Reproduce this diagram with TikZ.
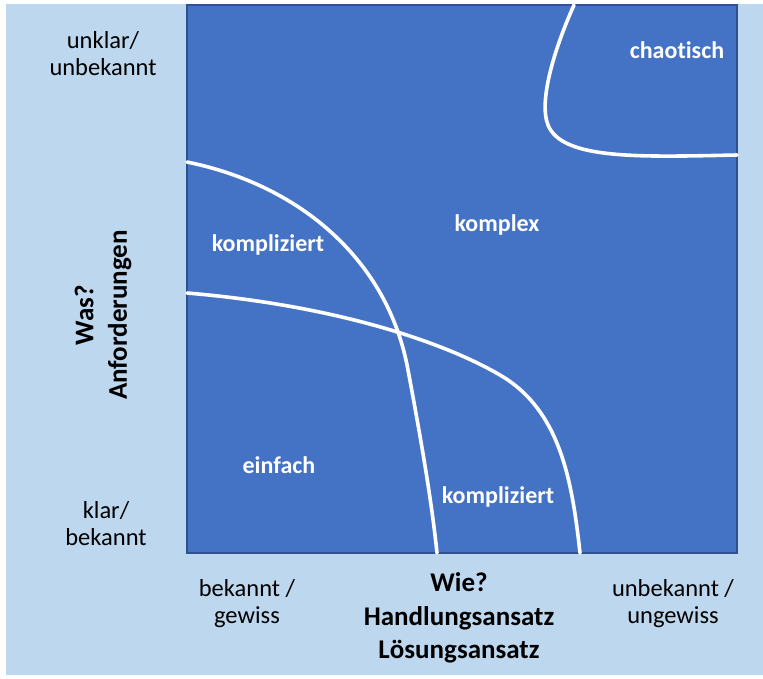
\documentclass[tikz,border=0pt]{standalone}
\usepackage{fontspec}
\setmainfont{Carlito}[RawFeature=-liga]
\begin{document}
\begin{tikzpicture}[x=1pt,y=-1pt,
  field/.style={fill=fieldblue,draw=edgeblue,line width=1.5pt},
  boundary/.style={draw=white,line width=3.6pt,line cap=round},
  zone/.style={text=white,font=\fontsize{24}{28}\selectfont\bfseries},
  scale label/.style={text=black,align=center,font=\fontsize{24.5}{27}\selectfont},
  axis title/.style={text=black,align=center,font=\fontsize{27}{33.5}\selectfont\bfseries}]
\definecolor{fieldblue}{HTML}{4472C4}
\definecolor{edgeblue}{HTML}{2F528F}
\definecolor{paleblue}{HTML}{BDD7EE}
\useasboundingbox (0,0) rectangle (763,678);
\fill[white] (0,0) rectangle (763,678);
\fill[paleblue] (6,4) rectangle (763,675);
% the domain field
\path[field] (187,5) rectangle (737,553);
% domain boundaries
\draw[boundary] (574,5) .. controls (556,45) and (538,100) .. (548,125)
  .. controls (562,160) and (640,157) .. (737,155);
\draw[boundary] (187,162) .. controls (300,185) and (388,260) .. (408,370)
  .. controls (423,450) and (432,505) .. (437,553);
\draw[boundary] (187,293) .. controls (330,305) and (440,340) .. (500,375)
  .. controls (560,410) and (572,480) .. (580,553);
% domain names
\node[zone] (chaos) at (677,50) {chaotisch};
\node[zone] (complex) at (497,225) {komplex};
\node[zone] (complA) at (268,245) {kompliziert};
\node[zone] (simple) at (279,465) {einfach};
\node[zone] (complB) at (498,497) {kompliziert};
% vertical scale
\node[scale label] (ytop) at (103,54) {unklar/\\unbekannt};
\node[scale label] (ybot) at (106,524) {klar/\\bekannt};
\node[axis title,rotate=90] (ytitle) at (103,315) {Was?\\Anforderungen};
% horizontal scale
\node[scale label] (xleft) at (247,604) {bekannt /\\gewiss};
\node[scale label] (xright) at (673,604) {unbekannt /\\ungewiss};
\node[axis title] (xtitle) at (459,618) {Wie?\\Handlungsansatz\\Lösungsansatz};
\end{tikzpicture}
\end{document}
